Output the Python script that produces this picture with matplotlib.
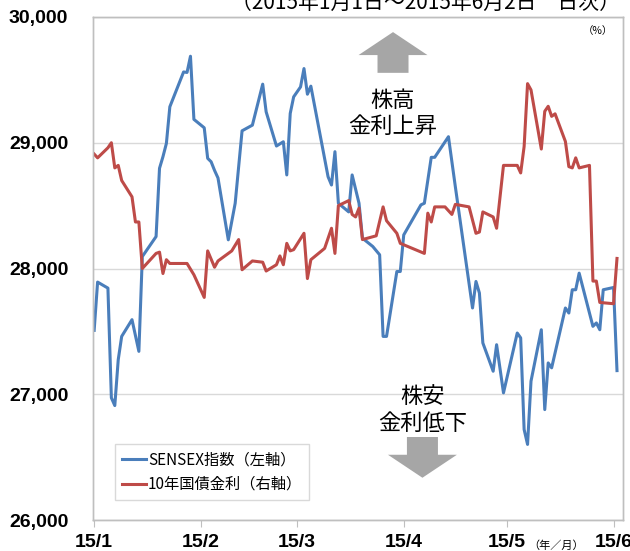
import matplotlib
matplotlib.use('Agg')
import matplotlib.pyplot as plt
import matplotlib.dates as mdates
import matplotlib.patches as mpatches
import pandas as pd

plt.rcParams['font.family'] = ['Liberation Sans', 'Noto Sans CJK JP', 'DejaVu Sans']
JP = ['Noto Sans CJK JP', 'DejaVu Sans']

# SENSEX index (left axis)
sensex_dates = [
    '01-01', '01-02', '01-05', '01-06', '01-07', '01-08', '01-09', '01-12', '01-14', '01-15',
    '01-19', '01-20', '01-21', '01-22', '01-23', '01-27', '01-28', '01-29', '01-30', '02-02',
    '02-03', '02-04', '02-05', '02-06', '02-09', '02-11', '02-13', '02-16', '02-19', '02-20',
    '02-23', '02-25', '02-26', '02-27', '02-28', '03-02', '03-03', '03-04', '03-05', '03-10',
    '03-11', '03-12', '03-13', '03-16', '03-17', '03-19', '03-20', '03-23', '03-25', '03-26',
    '03-27', '03-30', '03-31', '04-01', '04-06', '04-07', '04-09', '04-10', '04-14', '04-16',
    '04-21', '04-22', '04-23', '04-24', '04-27', '04-28', '04-30', '05-04', '05-05', '05-06',
    '05-07', '05-08', '05-11', '05-12', '05-13', '05-14', '05-18', '05-19', '05-20', '05-21',
    '05-22', '05-26', '05-27', '05-28', '05-29', '06-01', '06-02']
sensex = [
    27508, 27892, 27844, 26972, 26910, 27275, 27460, 27593, 27341, 28095,
    28254, 28797, 28889, 28995, 29286, 29563, 29559, 29688, 29186, 29119,
    28876, 28849, 28780, 28720, 28228, 28519, 29095, 29140, 29466, 29246,
    28974, 29008, 28744, 29233, 29365, 29444, 29590, 29386, 29450, 28730,
    28664, 28929, 28519, 28450, 28744, 28519, 28241, 28175, 28109, 27460,
    27460, 27976, 27976, 28267, 28506, 28519, 28884, 28884, 29048, 28651,
    27686, 27897, 27805, 27408, 27183, 27394, 27011, 27487, 27448, 26720,
    26601, 27104, 27513, 26878, 27249, 27210, 27686, 27646, 27831, 27831,
    27963, 27540, 27567, 27513, 27831, 27849, 27188]

# 10-year government bond yield (right axis, %)
yield_dates = [
    '01-01', '01-02', '01-05', '01-06', '01-07', '01-08', '01-09', '01-12', '01-13', '01-14',
    '01-15', '01-19', '01-20', '01-21', '01-22', '01-23', '01-28', '01-30', '02-02', '02-03',
    '02-05', '02-06', '02-10', '02-12', '02-13', '02-16', '02-19', '02-20', '02-23', '02-24',
    '02-25', '02-26', '02-27', '02-28', '03-03', '03-04', '03-05', '03-09', '03-11', '03-12',
    '03-13', '03-16', '03-17', '03-18', '03-19', '03-20', '03-24', '03-26', '03-27', '03-30',
    '03-31', '04-07', '04-08', '04-09', '04-10', '04-13', '04-15', '04-16', '04-20', '04-22',
    '04-23', '04-24', '04-27', '04-28', '04-30', '05-04', '05-05', '05-06', '05-07', '05-08',
    '05-11', '05-12', '05-13', '05-14', '05-15', '05-18', '05-19', '05-20', '05-21', '05-22',
    '05-25', '05-26', '05-27', '05-28', '06-01', '06-02']
yield_10y = [
    7.891, 7.888, 7.896, 7.900, 7.880, 7.882, 7.870, 7.857, 7.837, 7.837,
    7.800, 7.812, 7.813, 7.796, 7.807, 7.804, 7.804, 7.795, 7.777, 7.814,
    7.801, 7.806, 7.814, 7.823, 7.799, 7.806, 7.805, 7.798, 7.803, 7.810,
    7.803, 7.820, 7.814, 7.815, 7.828, 7.792, 7.807, 7.816, 7.832, 7.812,
    7.850, 7.854, 7.843, 7.841, 7.848, 7.823, 7.826, 7.849, 7.838, 7.828,
    7.820, 7.812, 7.844, 7.837, 7.849, 7.849, 7.843, 7.851, 7.849, 7.828,
    7.829, 7.845, 7.841, 7.832, 7.882, 7.882, 7.876, 7.897, 7.947, 7.942,
    7.895, 7.925, 7.929, 7.921, 7.923, 7.901, 7.881, 7.880, 7.888, 7.880,
    7.882, 7.790, 7.790, 7.773, 7.772, 7.808]

month_ticks = ['2015-01-01', '2015-02-01', '2015-03-01', '2015-04-01', '2015-05-01', '2015-06-01']
month_labels = ['15/1', '15/2', '15/3', '15/4', '15/5', '15/6']
left_ticks = [26000, 27000, 28000, 29000, 30000]

sx = pd.to_datetime(['2015-' + d for d in sensex_dates])
yx = pd.to_datetime(['2015-' + d for d in yield_dates])

fig = plt.figure(figsize=(6.3, 5.51), dpi=100)
ax = fig.add_axes([93.3 / 630, 1 - 520 / 551, 530 / 630, 503 / 551])
ax2 = ax.twinx()

l1, = ax.plot(sx, sensex, color='#4a7ebb', lw=2.2, label='SENSEX指数（左軸）')
l2, = ax2.plot(yx, yield_10y, color='#be4b48', lw=2.2, label='10年国債金利（右軸）')

ax.set_ylim(26000, 30000)
ax2.set_ylim(7.6, 8.0)
ax.set_yticks(left_ticks)
ax.set_yticklabels([f'{v:,}' for v in left_ticks], fontweight='bold', fontsize=14)
ax.tick_params(axis='y', length=0, pad=18)
ax2.set_yticks([])
ax.grid(axis='y', color='#d9d9d9', lw=1)
ax.set_axisbelow(True)

ax.set_xlim(pd.Timestamp('2014-12-31 18:00'), pd.Timestamp('2015-06-03 20:00'))
ax.set_xticks(pd.to_datetime(month_ticks))
ax.set_xticklabels(month_labels, fontweight='bold', fontsize=14)
ax.tick_params(axis='x', length=5, color='#bfbfbf', pad=5)

for a in (ax, ax2):
    for s in a.spines.values():
        s.set_color('#bfbfbf')
        s.set_linewidth(1)

leg = ax.legend(handles=[l1, l2], loc='lower left', bbox_to_anchor=(0.041, 0.04),
                borderaxespad=0, prop={'family': JP, 'size': 11}, handlelength=1.6,
                handletextpad=0.1, fancybox=False, edgecolor='#d9d9d9', framealpha=1,
                borderpad=0.45, labelspacing=0.5)
leg.set_zorder(5)

# arrows and captions
ax.add_patch(mpatches.FancyArrow(0.5655, 0.889, 0, 0.081, width=0.0585, head_width=0.130,
                                 head_length=0.0457, length_includes_head=True,
                                 color='#a6a6a6', lw=0, transform=ax.transAxes, zorder=4))
ax.add_patch(mpatches.FancyArrow(0.621, 0.165, 0, -0.081, width=0.0585, head_width=0.130,
                                 head_length=0.0457, length_includes_head=True,
                                 color='#a6a6a6', lw=0, transform=ax.transAxes, zorder=4))
ax.text(0.5655, 0.808, '株高\n金利上昇', transform=ax.transAxes, ha='center', va='center',
        family=JP, fontsize=16, linespacing=1.2, zorder=6)
ax.text(0.621, 0.219, '株安\n金利低下', transform=ax.transAxes, ha='center', va='center',
        family=JP, fontsize=16, linespacing=1.2, zorder=6)

fig.text(0.675, 1 - 14 / 551, '（2015年1月1日～2015年6月2日　日次）', ha='center', va='bottom',
         family=JP, fontsize=15)
fig.text(598 / 630, 1 - 31 / 551, '（%）', ha='center', va='center', family=JP, fontsize=7.5)
fig.text(556 / 630, 1 - 546 / 551, '（年／月）', ha='center', va='center', family=JP, fontsize=8)

fig.savefig('out.png', dpi=100)
